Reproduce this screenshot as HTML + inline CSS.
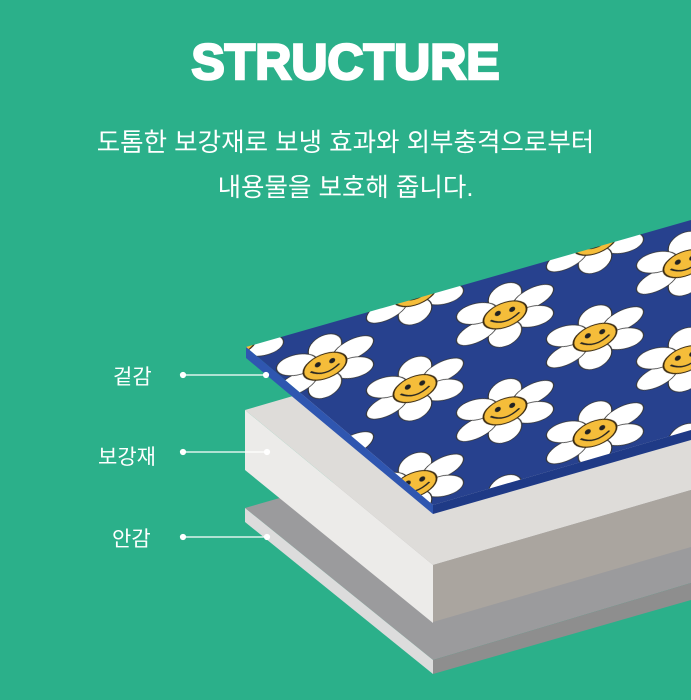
<!DOCTYPE html>
<html><head><meta charset="utf-8"><style>
html,body{margin:0;padding:0}
body{width:691px;height:700px;background:#2bb08a;position:relative;overflow:hidden;font-family:"Liberation Sans","Noto Sans CJK KR",sans-serif;color:#fff}
.t{position:absolute;left:0;width:691px;text-align:center}
.lab{position:absolute;font-size:21px;color:#fff}
</style></head><body>
<div class="t" style="top:33px;font-size:50px;font-weight:900;-webkit-text-stroke:2.5px #fff">STRUCTURE</div>
<div class="t" style="top:122px;font-size:25.5px">도톰한 보강재로 보냉 효과와 외부충격으로부터</div>
<div class="t" style="top:167px;font-size:25.5px">내용물을 보호해 줍니다.</div>
<div class="lab" style="left:113px;top:361px">겉감</div>
<div class="lab" style="left:98px;top:441px">보강재</div>
<div class="lab" style="left:112px;top:523px">안감</div>
<svg width="691" height="700" style="position:absolute;left:0;top:0">
<defs>
<g id="d0">
<g fill="#fff" stroke="#333" stroke-width="1">
<ellipse cx="0" cy="-27" rx="14" ry="18"/>
<ellipse cx="0" cy="-27" rx="14" ry="18" transform="rotate(60)"/>
<ellipse cx="0" cy="-27" rx="14" ry="18" transform="rotate(120)"/>
<ellipse cx="0" cy="-27" rx="14" ry="18" transform="rotate(180)"/>
<ellipse cx="0" cy="-27" rx="14" ry="18" transform="rotate(240)"/>
<ellipse cx="0" cy="-27" rx="14" ry="18" transform="rotate(300)"/>
</g>
<circle r="18" fill="#f5bd3a" stroke="#3a2a10" stroke-width="1.5"/>
<ellipse cx="-6" cy="-5" rx="2.5" ry="3.5" fill="#222"/>
<ellipse cx="6" cy="-5" rx="2.5" ry="3.5" fill="#222"/>
<path d="M-12 2 Q0 16 12 2" fill="none" stroke="#222" stroke-width="2"/>
</g>
<g id="d"><use href="#d0" transform="scale(1.2,0.7)"/></g>
<pattern id="p" width="180" height="96" patternUnits="userSpaceOnUse" patternTransform="matrix(1 -0.285 0 1 10 0)">
<rect width="180" height="96" fill="#27418e"/>
<use href="#d" x="45" y="24"/>
<use href="#d" x="135" y="72"/>
<use href="#d" x="-45" y="72"/>
<use href="#d" x="225" y="24"/>
<use href="#d" x="135" y="-24"/>
<use href="#d" x="45" y="120"/>
<use href="#d" x="-45" y="-24"/>
<use href="#d" x="225" y="120"/>
</pattern>
</defs>
<polygon points="245,508 691,380 691,583 433,660" fill="#9b9b9d"/>
<polygon points="245,508 433,660 433,674 245,522" fill="#dcdcdc"/>
<polygon points="433,660 691,583 691,600 433,674" fill="#8e8e8e"/>
<polygon points="245,410 691,280 691,490 433,565" fill="#dedcd9"/>
<polygon points="245,410 433,565 433,623 245,470" fill="#ecebe9"/>
<polygon points="433,565 691,490 691,547 433,622" fill="#aaa59f"/>
<polygon points="246,347 691,220 691,430 433,505" fill="url(#p)"/>
<polygon points="246,347 433,505 433,514 246,358" fill="#2f56b0"/>
<polygon points="433,505 691,430 691,440 433,514" fill="#1f3a86"/>
<g stroke="#fff" stroke-width="1.2" fill="#fff">
<line x1="183" y1="375" x2="266" y2="375"/><circle cx="183" cy="375" r="2.5"/><circle cx="266" cy="375" r="2.5"/>
<line x1="183" y1="452" x2="267" y2="452"/><circle cx="183" cy="452" r="2.5"/><circle cx="267" cy="452" r="2.5"/>
<line x1="183" y1="537" x2="267" y2="537"/><circle cx="183" cy="537" r="2.5"/><circle cx="267" cy="537" r="2.5"/>
</g>
</svg>
</body></html>
